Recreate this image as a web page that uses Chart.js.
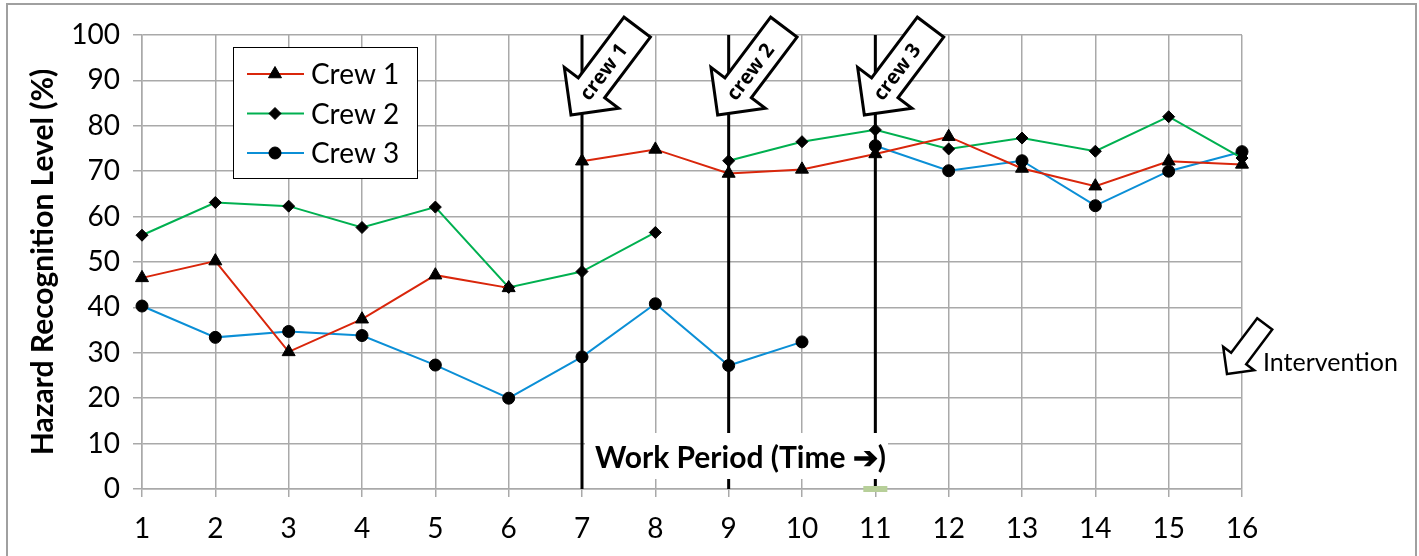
<!DOCTYPE html>
<html>
<head>
<meta charset="utf-8">
<script src="https://cdn.jsdelivr.net/npm/chart.js@4.4.1/dist/chart.umd.min.js"></script>
<style>
  body { margin: 0; background: #fff; }
  #wrap { position: relative; width: 1419px; height: 556px; }
</style>
</head>
<body>
<div id="wrap"><canvas id="hazardChart"></canvas></div>
<script>
// work periods on the x axis
const periods = ['1', '2', '3', '4', '5', '6', '7', '8', '9', '10', '11', '12', '13', '14', '15', '16'];

// hazard recognition level (%) per crew
const crew1 = [46.5, 50.2, 30.2, 37.4, 47.1, 44.3, 72.2, 74.8, 69.5, 70.4, 73.8, 77.6, 70.6, 66.7, 72.2, 71.5];
const crew2 = [55.9, 63.1, 62.3, 57.6, 62.1, 44.4, 47.9, 56.5, 72.3, 76.5, 79.1, 74.9, 77.3, 74.4, 82.0, 72.9];
const crew3 = [40.3, 33.4, 34.7, 33.8, 27.3, 20.0, 29.1, 40.8, 27.2, 32.4, 75.6, 70.1, 72.3, 62.4, 70.0, 74.3];

// period at which each crew got the intervention (line is broken just before it)
const interventionPeriods = ['7', '9', '11'];
const interventionLabels = ['crew 1', 'crew 2', 'crew 3'];

const yTicks = [0, 10, 20, 30, 40, 50, 60, 70, 80, 90, 100];

const FONT = 'Lato, "Open Sans", sans-serif';
const GRID = '#a9a9a9';

// hide the segment that leads into the intervention period
function breakAt(period) {
    const idx = periods.indexOf(period);
    return ctx => ctx.p1DataIndex === idx ? 'rgba(0,0,0,0)' : undefined;
}

function makeSeries(label, data, color, style, radius, period) {
    return {
        label: label,
        data: data,
        borderColor: color,
        borderWidth: 2,
        pointStyle: style,
        pointRadius: radius,
        pointBackgroundColor: '#000',
        pointBorderColor: '#000',
        pointBorderWidth: 1,
        tension: 0,
        fill: false,
        segment: { borderColor: breakAt(period) }
    };
}

// block arrow pointing down-left, tip at (tx, ty)
function blockArrow(ctx, tx, ty, scale, lw, text, fontPx) {
    const L = 110, H = 34, W = 68, S = 33;
    const ang = 127 * Math.PI / 180;
    ctx.save();
    ctx.translate(tx, ty);
    ctx.scale(scale, scale);
    ctx.rotate(ang);
    ctx.beginPath();
    ctx.moveTo(0, 0);
    ctx.lineTo(-H, -W / 2);
    ctx.lineTo(-H, -S / 2);
    ctx.lineTo(-L, -S / 2);
    ctx.lineTo(-L, S / 2);
    ctx.lineTo(-H, S / 2);
    ctx.lineTo(-H, W / 2);
    ctx.closePath();
    ctx.fillStyle = '#fff';
    ctx.fill();
    ctx.lineWidth = lw / scale;
    ctx.lineJoin = 'miter';
    ctx.strokeStyle = '#000';
    ctx.stroke();
    if (text) {
        ctx.translate(-54, 0);
        ctx.rotate(Math.PI);
        ctx.fillStyle = '#000';
        ctx.font = 'bold ' + fontPx + 'px "Open Sans", sans-serif';
        ctx.textAlign = 'center';
        ctx.textBaseline = 'middle';
        ctx.fillText(text, 0, 1);
    }
    ctx.restore();
}

const extras = {
    id: 'extras',
    beforeDraw(chart) {
        const ctx = chart.ctx;
        ctx.save();
        ctx.fillStyle = '#fff';
        ctx.fillRect(0, 0, chart.width, chart.height);
        ctx.strokeStyle = '#a0a0a0';
        ctx.lineWidth = 2;
        ctx.strokeRect(7, 4, 1409, 600);
        ctx.restore();
    },
    beforeDatasetsDraw(chart) {
        const ctx = chart.ctx;
        const x = chart.scales.x;
        const area = chart.chartArea;
        ctx.save();
        ctx.strokeStyle = '#000';
        ctx.lineWidth = 3;
        interventionPeriods.forEach(p => {
            const px = x.getPixelForValue(periods.indexOf(p));
            ctx.beginPath();
            ctx.moveTo(px, area.top);
            ctx.lineTo(px, area.bottom);
            ctx.stroke();
        });
        ctx.restore();
    },
    afterDatasetsDraw(chart) {
        const ctx = chart.ctx;
        const x = chart.scales.x;
        const area = chart.chartArea;
        ctx.save();

        // x axis title sitting inside the plot
        const title = 'Work Period (Time \u2794)';
        ctx.fillStyle = '#fff';
        ctx.fillRect(585, 433, 303, 46);
        ctx.font = 'bold 30px ' + FONT;
        ctx.fillStyle = '#000';
        ctx.textAlign = 'left';
        ctx.textBaseline = 'middle';
        ctx.fillText(title, 595, 458, 292);

        ctx.fillStyle = '#b7cf99';
        const g = x.getPixelForValue(periods.indexOf('11'));
        ctx.fillRect(g - 12, area.bottom - 3, 24, 6);

        // intervention arrows
        interventionPeriods.forEach((p, i) => {
            const px = x.getPixelForValue(periods.indexOf(p));
            blockArrow(ctx, px - 11, 115, 1, 3, interventionLabels[i], 20);
        });
        blockArrow(ctx, 1227, 374, 0.57, 2.5, null);
        ctx.font = '25px ' + FONT;
        ctx.fillStyle = '#000';
        ctx.textAlign = 'left';
        ctx.textBaseline = 'middle';
        ctx.fillText('Intervention', 1263, 363);

        // legend box
        ctx.fillStyle = '#fff';
        ctx.fillRect(233.5, 47.5, 184, 131);
        ctx.strokeStyle = '#000';
        ctx.lineWidth = 1;
        ctx.strokeRect(233.5, 47.5, 184, 131);
        chart.data.datasets.forEach((ds, i) => {
            const y = 74 + i * 39.5;
            ctx.strokeStyle = ds.borderColor;
            ctx.lineWidth = 2;
            ctx.beginPath();
            ctx.moveTo(247, y);
            ctx.lineTo(304, y);
            ctx.stroke();
            ctx.fillStyle = '#000';
            ctx.strokeStyle = '#000';
            ctx.lineWidth = 1;
            Chart.helpers.drawPoint(ctx, { pointStyle: ds.pointStyle, radius: ds.pointRadius, rotation: 0, borderWidth: 1 }, 275, y);
            ctx.font = '28px ' + FONT;
            ctx.textBaseline = 'middle';
            ctx.fillText(ds.label, 311, y + 1);
        });
        ctx.restore();
    }
};

new Chart(document.getElementById('hazardChart'), {
    type: 'line',
    data: {
        labels: periods,
        datasets: [
            makeSeries('Crew 1', crew1, '#d9260b', 'triangle', 7.5, interventionPeriods[0]),
            makeSeries('Crew 2', crew2, '#00b050', 'rectRot', 6, interventionPeriods[1]),
            makeSeries('Crew 3', crew3, '#0b8fd6', 'circle', 6, interventionPeriods[2])
        ]
    },
    options: {
        responsive: true,
        maintainAspectRatio: false,
        animation: false,
        devicePixelRatio: 1,
        layout: { padding: { left: 0, right: 177, top: 35, bottom: 0 } },
        plugins: {
            legend: { display: false },
            tooltip: { enabled: false }
        },
        scales: {
            x: {
                offset: false,
                grid: { color: GRID, lineWidth: 1.5, tickLength: 8, tickColor: GRID },
                border: { color: GRID, width: 1.5 },
                ticks: { color: '#000', font: { family: FONT, size: 28 }, padding: 15, maxRotation: 0, autoSkip: false },
                afterFit(scale) { scale.height = 67; }
            },
            y: {
                min: 0,
                max: 100,
                afterBuildTicks(scale) { scale.ticks = yTicks.map(v => ({ value: v })); },
                grid: { color: GRID, lineWidth: 1.5, tickLength: 9, tickColor: GRID },
                border: { color: GRID, width: 1.5 },
                ticks: { color: '#000', font: { family: FONT, size: 28 }, padding: 13 },
                title: {
                    display: true,
                    text: 'Hazard Recognition Level (%)',
                    color: '#000',
                    font: { family: FONT, size: 30, weight: 'bold' },
                    padding: { top: 25, bottom: 0 }
                },
                afterFit(scale) { scale.width = 142; }
            }
        }
    },
    plugins: [extras]
});
</script>
</body>
</html>
